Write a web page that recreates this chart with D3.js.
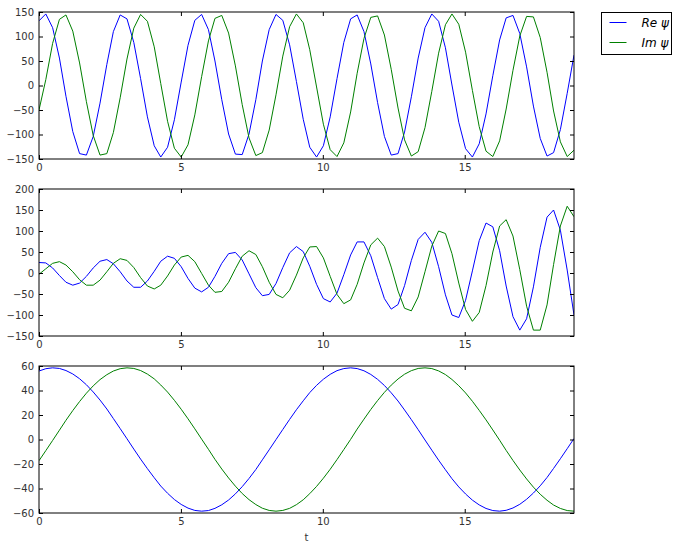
<!DOCTYPE html>
<html>
<head>
<meta charset="utf-8">
<script src="https://cdn.jsdelivr.net/npm/d3@7"></script>
<style>
  body { margin: 0; background: #fff; }
  svg text { font-family: "DejaVu Sans", sans-serif; }
</style>
</head>
<body>
<svg id="chart" width="680" height="550"></svg>
<script>
// time samples (shared by the three panels)
var t = [0, 0.24, 0.48, 0.72, 0.95, 1.19, 1.43, 1.67, 1.91, 2.15, 2.39, 2.62, 2.86, 3.10, 3.34, 3.58, 3.82, 4.06, 4.29, 4.53,
  4.77, 5.01, 5.25, 5.49, 5.73, 5.97, 6.20, 6.44, 6.68, 6.92, 7.16, 7.40, 7.64, 7.87, 8.11, 8.35, 8.59, 8.83, 9.07, 9.31,
  9.54, 9.78, 10.02, 10.26, 10.50, 10.74, 10.98, 11.21, 11.45, 11.69, 11.93, 12.17, 12.41, 12.65, 12.88, 13.12, 13.36, 13.60, 13.84, 14.08,
  14.32, 14.55, 14.79, 15.03, 15.27, 15.51, 15.75, 15.99, 16.23, 16.46, 16.70, 16.94, 17.18, 17.42, 17.66, 17.90, 18.13, 18.37, 18.61, 18.85];

// panel 1
var reTop = [132, 146, 118, 56, -22, -94, -139, -142, -104, -36, 43, 110, 144, 136, 88, 14, -64, -123, -146, -126,
  -70, 7, 82, 133, 145, 114, 50, -29, -99, -140, -141, -99, -29, 50, 114, 145, 133, 83, 8, -69,
  -126, -146, -123, -64, 14, 88, 136, 144, 110, 44, -35, -104, -142, -139, -95, -23, 56, 118, 146, 131,
  77, 1, -75, -129, -146, -119, -58, 20, 93, 138, 143, 106, 38, -42, -108, -144, -137, -90, -16, 62];
var imTop = [-50, 12, 86, 135, 144, 111, 46, -33, -102, -142, -139, -96, -25, 54, 117, 145, 131, 79, 4, -73,
  -128, -146, -121, -60, 18, 91, 137, 143, 107, 40, -39, -107, -143, -137, -91, -19, 60, 120, 146, 128,
  73, -3, -79, -131, -145, -117, -54, 25, 96, 139, 142, 103, 33, -46, -111, -144, -135, -86, -12, 66,
  124, 146, 125, 68, -10, -84, -134, -145, -113, -48, 31, 101, 141, 140, 98, 27, -52, -115, -145, -132];

// panel 2
var reMid = [25, 24, 12, -6, -22, -29, -24, -8, 12, 28, 32, 22, 3, -19, -34, -34, -19, 4, 28, 40,
  35, 15, -13, -36, -45, -34, -8, 23, 46, 49, 31, -2, -35, -54, -51, -25, 13, 48, 63, 51,
  16, -27, -61, -69, -48, -4, 43, 74, 74, 41, -11, -61, -86, -75, -30, 30, 80, 97, 73, 15,
  -52, -100, -106, -65, 5, 77, 119, 110, 53, -31, -104, -136, -109, -33, 61, 133, 150, 102, 7, -100];
var imMid = [-3, 10, 23, 27, 19, 3, -16, -29, -29, -17, 3, 23, 34, 30, 13, -11, -31, -38, -29, -7,
  19, 38, 42, 27, -1, -29, -46, -44, -22, 10, 40, 53, 44, 15, -22, -51, -59, -41, -5, 36,
  62, 63, 36, -8, -51, -73, -64, -27, 24, 67, 83, 63, 14, -43, -84, -90, -57, 3, 64, 100,
  94, 46, -24, -87, -115, -94, -30, 50, 112, 127, 88, 8, -79, -136, -136, -76, 20, 112, 159, 134];

// panel 3
var reBot = [55.9, 57.8, 58.5, 58.0, 56.3, 53.5, 49.6, 44.7, 38.8, 32.2, 24.9, 17.1, 8.9, 0.6, -7.8, -16.0, -23.8, -31.2, -38.0, -43.9,
  -49.0, -53.0, -56.0, -57.9, -58.5, -58.0, -56.2, -53.3, -49.4, -44.4, -38.5, -31.8, -24.5, -16.6, -8.4, -0.1, 8.2, 16.4, 24.3, 31.6,
  38.3, 44.2, 49.2, 53.2, 56.2, 57.9, 58.5, 57.9, 56.1, 53.1, 49.1, 44.1, 38.1, 31.4, 24.1, 16.2, 8.0, -0.4, -8.7, -16.9,
  -24.7, -32.0, -38.7, -44.5, -49.5, -53.4, -56.3, -58.0, -58.5, -57.8, -55.9, -52.9, -48.8, -43.7, -37.8, -31.0, -23.6, -15.7, -7.5, 0.8];
var imBot = [-17.3, -9.1, -0.8, 7.6, 15.7, 23.6, 31.0, 37.8, 43.8, 48.9, 52.9, 55.9, 57.8, 58.5, 58.0, 56.3, 53.4, 49.5, 44.5, 38.7,
  32.0, 24.7, 16.9, 8.7, 0.3, -8.0, -16.2, -24.1, -31.4, -38.1, -44.1, -49.1, -53.1, -56.1, -57.9, -58.5, -57.9, -56.2, -53.2, -49.2,
  -44.2, -38.3, -31.6, -24.3, -16.4, -8.2, 0.1, 8.5, 16.6, 24.5, 31.8, 38.5, 44.4, 49.4, 53.3, 56.2, 58.0, 58.5, 57.9, 56.0,
  53.0, 49.0, 43.9, 38.0, 31.2, 23.8, 16.0, 7.8, -0.6, -8.9, -17.1, -24.9, -32.2, -38.9, -44.7, -49.6, -53.5, -56.3, -58.0, -58.5];

var xTicks = [0, 5, 10, 15];
var yTicksTop = [-150, -100, -50, 0, 50, 100, 150];
var yTicksMid = [-150, -100, -50, 0, 50, 100, 150, 200];
var yTicksBot = [-60, -40, -20, 0, 20, 40, 60];
var legendNames = ["Re \u03c8", "Im \u03c8"];
var colors = ["#0000ff", "#008000"];

var svg = d3.select("#chart"),
    left = 39, plotW = 535, plotH = 147,
    textColor = "#333";

var x = d3.scaleLinear().domain([0, 18.85]).range([0, plotW]);

var panels = [
  {top: 12, re: reTop, im: imTop, ticks: yTicksTop},
  {top: 189, re: reMid, im: imMid, ticks: yTicksMid},
  {top: 366, re: reBot, im: imBot, ticks: yTicksBot}
];

function styleAxis(g) {
  g.select(".domain").remove();
  g.selectAll(".tick line").attr("stroke", "#000");
  g.selectAll(".tick text").attr("fill", textColor).attr("font-size", 10)
    .attr("font-family", "DejaVu Sans, sans-serif");
}

panels.forEach(function(p, k) {
  var y = d3.scaleLinear()
      .domain([p.ticks[0], p.ticks[p.ticks.length - 1]])
      .range([plotH, 0]);

  var g = svg.append("g").attr("transform", "translate(" + left + "," + p.top + ")");

  g.append("clipPath").attr("id", "clip" + k)
    .append("rect").attr("width", plotW).attr("height", plotH);

  var line = d3.line()
      .x(function(d, i) { return x(t[i]); })
      .y(function(d) { return y(d); });

  [p.re, p.im].forEach(function(s, j) {
    g.append("path")
        .attr("clip-path", "url(#clip" + k + ")")
        .attr("d", line(s))
        .attr("fill", "none")
        .attr("stroke", colors[j])
        .attr("stroke-width", 1);
  });

  g.append("g").attr("transform", "translate(0," + plotH + ")")
      .call(d3.axisBottom(x).tickValues(xTicks).tickSizeInner(-4).tickSizeOuter(0).tickPadding(5))
      .call(styleAxis);
  g.append("g")
      .call(d3.axisTop(x).tickValues(xTicks).tickSizeInner(-4).tickSizeOuter(0).tickFormat(""))
      .call(styleAxis);
  g.append("g")
      .call(d3.axisLeft(y).tickValues(p.ticks).tickSizeInner(-4).tickSizeOuter(0).tickPadding(5))
      .call(styleAxis);
  g.append("g").attr("transform", "translate(" + plotW + ",0)")
      .call(d3.axisRight(y).tickValues(p.ticks).tickSizeInner(-4).tickSizeOuter(0).tickFormat(""))
      .call(styleAxis);

  g.append("rect")
      .attr("x", 0).attr("y", 0)
      .attr("width", plotW).attr("height", plotH)
      .attr("fill", "none").attr("stroke", "#000").attr("stroke-width", 1);
});

// x label under the last panel
svg.append("text")
    .attr("x", left + plotW / 2).attr("y", 541)
    .attr("text-anchor", "middle")
    .attr("font-size", 10).attr("fill", textColor)
    .text("t");

// legend
var legend = svg.append("g").attr("transform", "translate(601.5,12.5)");
legend.append("rect")
    .attr("width", 70).attr("height", 42)
    .attr("fill", "#fff").attr("stroke", "#000").attr("stroke-width", 1);
legendNames.forEach(function(name, i) {
  var row = legend.append("g").attr("transform", "translate(0," + (10 + i * 20) + ")");
  row.append("line")
      .attr("x1", 8).attr("x2", 25)
      .attr("stroke", colors[i]).attr("stroke-width", 1);
  row.append("text")
      .attr("x", 40).attr("dy", "0.35em")
      .attr("font-family", "Liberation Serif, serif")
      .attr("font-style", "italic")
      .attr("font-size", 12).attr("fill", "#000")
      .text(name);
});
</script>
</body>
</html>
